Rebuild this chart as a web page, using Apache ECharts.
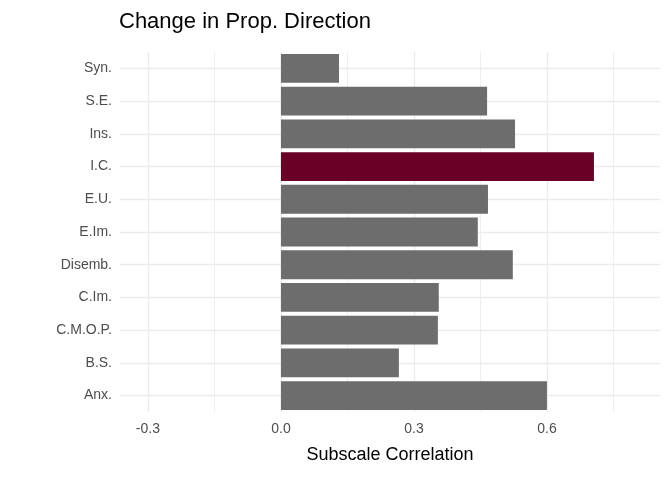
<!DOCTYPE html>
<html><head><meta charset="utf-8">
<script src="https://cdn.jsdelivr.net/npm/echarts@6/dist/echarts.min.js"></script>
<style>html,body{margin:0;background:#fff}#c{width:672px;height:480px}</style>
</head><body><div id="c"></div>
<script>
const categories = ['Anx.','B.S.','C.M.O.P.','C.Im.','Disemb.','E.Im.','E.U.','I.C.','Ins.','S.E.','Syn.'];
const values = [0.600,0.266,0.354,0.356,0.523,0.444,0.467,0.706,0.528,0.465,0.131];
const highlight = 'I.C.';
const xTicks = [-0.3,0,0.3,0.6];
const xMinor = [-0.15,0.15,0.45,0.75];
const chart = echarts.init(document.getElementById('c'));
const gl = (v,w)=>({xAxis:v,lineStyle:{color:'#ebebeb',width:w,type:'solid'}});
chart.setOption({
  animation:false,
  title:{text:'Change in Prop. Direction',left:114,top:6,textStyle:{fontFamily:'Liberation Sans',fontSize:22,fontWeight:'normal',color:'#000'}},
  grid:{left:120,right:12,top:52,bottom:68},
  xAxis:{type:'value',min:-0.363,max:0.855,
    name:'Subscale Correlation',nameLocation:'middle',nameGap:34,
    nameTextStyle:{fontFamily:'Liberation Sans',fontSize:18,color:'#000'},
    axisLine:{show:false},axisTick:{show:false},splitLine:{show:false},
    axisLabel:{customValues:xTicks,formatter:v=>v.toFixed(1),fontFamily:'Liberation Sans',fontSize:14,color:'#4d4d4d',margin:10}},
  yAxis:{type:'category',data:categories,axisLine:{show:false},axisTick:{show:false},
    splitLine:{show:false},
    axisLabel:{fontFamily:'Liberation Sans',fontSize:14,color:'#4d4d4d',margin:8}},
  series:[{type:'bar',barCategoryGap:'12%',
    data:values.map((v,i)=>({value:v,itemStyle:{color:categories[i]===highlight?'#6b0026':'#6d6d6d'}})),
    z:3,
    markLine:{silent:true,symbol:'none',label:{show:false},z:1,
      data:[...xTicks.map(v=>gl(v,1.3)),...xMinor.map(v=>gl(v,0.8)),
        ...categories.map(c=>({yAxis:c,lineStyle:{color:'#ebebeb',width:1.3,type:'solid'}}))]}
  }]
});
</script></body></html>
